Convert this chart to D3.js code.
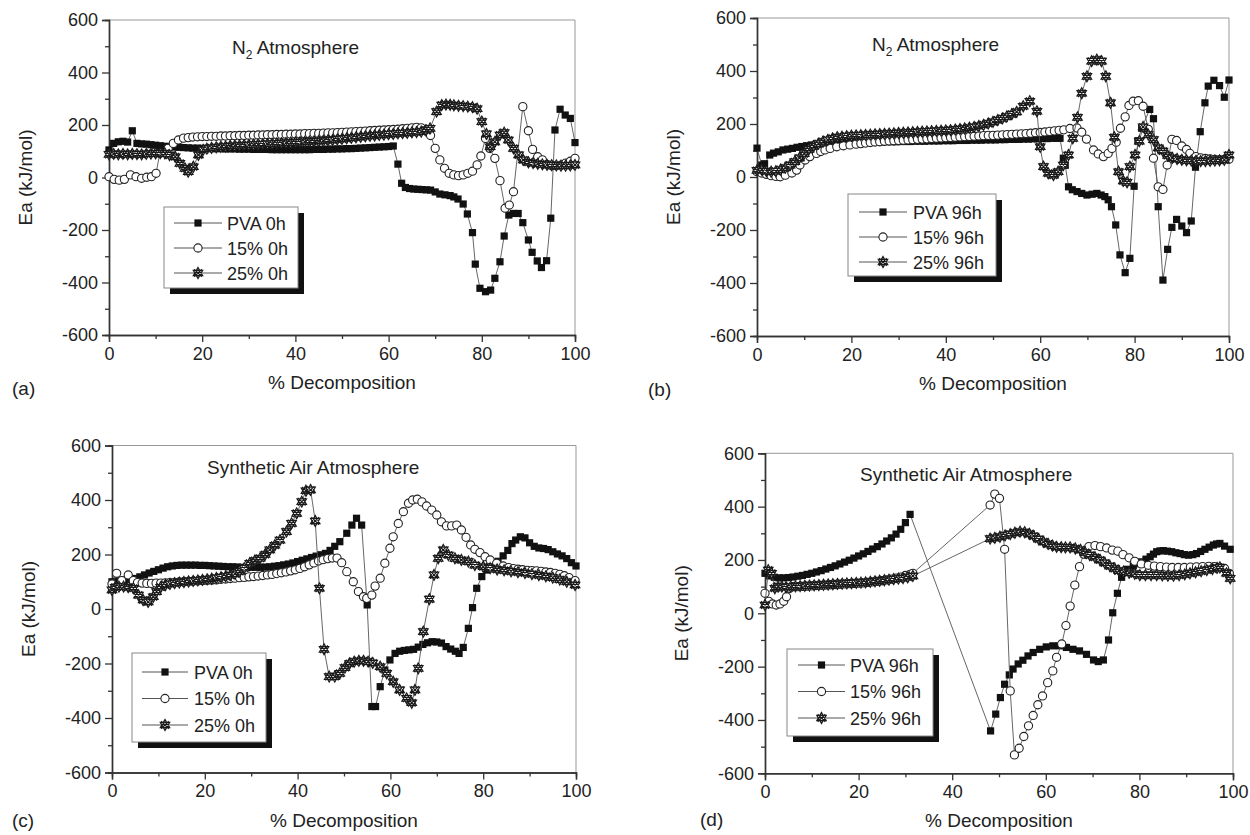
<!DOCTYPE html>
<html><head><meta charset="utf-8">
<script src="https://cdn.jsdelivr.net/npm/d3@7/dist/d3.min.js"></script>
<style>body{margin:0;background:#fff}svg text{font-family:"Liberation Sans",Arial,sans-serif;fill:#222}</style>
</head><body><svg id="c" width="1250" height="835"></svg>
<script>
// ---------- tick labels / legend text ----------
const xTicks = [0,20,40,60,80,100];
const yTicks = [-600,-400,-200,0,200,400,600];
const legend0h = ["PVA 0h","15% 0h","25% 0h"];
const legend96h = ["PVA 96h","15% 96h","25% 96h"];

// ---------- (a) N2, 0h ----------
const aPVA = [[0,105],[1,130],[2,136],[3,138],[4,135],[5,178],[6,130],[7,128],[8,127],[9,125],[10,123],[11,121],[12,119],[13,117],[14,116],[15,115],[16,114],[17,113],[18,112],[19,112],[20,111],[21,111],[22,110],[23,110],[24,110],[25,109],[26,109],[27,109],[28,108],[29,108],[30,108],[31,107],[32,107],[33,107],[34,107],[35,106],[36,106],[37,106],[38,106],[39,106],[40,106],[41,106],[42,106],[43,106],[44,107],[45,107],[46,107],[47,108],[48,108],[49,109],[50,109],[51,110],[52,110],[53,111],[54,112],[55,113],[56,114],[57,115],[58,116],[59,117],[60,118],[61,120],[62,51],[62.8,-22],[63.6,-38],[64.5,-42],[65.4,-44],[66.3,-45],[67.2,-46],[68.1,-47],[69,-48],[70,-55],[71,-63],[72.1,-66],[73.2,-69],[74,-74],[74.9,-82],[76,-101],[76.9,-139],[78,-210],[78.6,-330],[79.6,-422],[80.8,-435],[81.9,-429],[82.8,-384],[83.9,-321],[84.8,-223],[85.8,-143],[86.8,-137],[87.8,-137],[88.8,-172],[90,-238],[90.8,-285],[91.9,-318],[92.8,-343],[93.9,-317],[94.8,-155],[95.7,181],[96.8,260],[97.9,238],[99,225],[100,133]];
const a15 = [[0,3],[1.1,-7],[2.2,-10],[3.3,-7],[4.6,10],[5.8,3],[7,-3],[8.1,1],[9.1,3],[10.1,16],[10.9,92],[12.7,111],[13.8,130],[14.9,143],[16,150],[17,152],[18,154],[19,155],[20,156],[21,156],[22,157],[23,157],[24,158],[25,158],[26,159],[27,159],[28,160],[29,160],[30,161],[31,161],[32,162],[33,162],[34,163],[35,163],[36,164],[37,164],[38,165],[39,165],[40,166],[41,166],[42,167],[43,167],[44,168],[45,168],[46,169],[47,170],[48,170],[49,171],[50,172],[51,173],[52,174],[53,175],[54,176],[55,177],[56,178],[57,179],[58,180],[59,181],[60,182],[61,183],[62,184],[63,186],[64,187],[65,189],[66,191],[67,189],[68,180],[69,160],[70,111],[71,67],[72,35],[73,16],[74,10],[75,7],[76,10],[77,16],[78,24],[79,48],[79.8,82],[80.8,149],[81.7,111],[82.8,73],[83.9,-12],[85,-117],[85.9,-105],[86.8,-54],[88.8,270],[90,178],[90.9,107],[92,79],[93,67],[94,50],[95,45],[96,45],[97,47],[98,55],[99,62],[100,73]];
const a25 = [[0,88],[1,90],[2,88],[3,90],[4,88],[5,90],[6,89],[7,88],[8,90],[9,91],[10,92],[11,93],[12,92],[13,85],[14.2,79],[15.2,54],[16.3,35],[17,22],[18.1,41],[19.2,86],[20.2,105],[21,110],[22,113],[23,115],[24,117],[25,118],[26,120],[27,121],[28,122],[29,123],[30,124],[31,125],[32,126],[33,127],[34,128],[35,129],[36,130],[37,131],[38,132],[39,133],[40,134],[41,135],[42,136],[43,137],[44,138],[45,139],[46,140],[47,142],[48,143],[49,145],[50,147],[51,149],[52,151],[53,153],[54,155],[55,157],[56,159],[57,160],[58,162],[59,163],[60,165],[61,166],[62,168],[63,169],[64,170],[65,172],[66,173],[67,175],[68,180],[68.9,187],[70.3,251],[71.4,276],[72.3,278],[73.2,277],[74,275],[75,273],[76,272],[77,270],[78,268],[79,262],[80,213],[81,166],[81.8,117],[82.8,136],[83.9,162],[84.8,171],[85.7,143],[86.8,111],[87.9,86],[88.9,67],[90,58],[91,55],[92,52],[93,50],[94,48],[95,47],[96,46],[97,45],[98,45],[99,46],[100,48]];

// ---------- (b) N2, 96h ----------
const bPVA = [[0,109],[1,45],[1.6,50],[2.7,83],[3.5,90],[4.5,95],[5.5,102],[6.5,105],[7.5,108],[8.5,112],[9.5,115],[10.5,118],[11.5,121],[12.5,123],[13.5,125],[14.5,126],[15.5,127],[16.5,128],[17.5,129],[18.5,129],[19.5,130],[20.5,130],[21.5,131],[22.5,131],[23.5,131],[24.5,132],[25.5,132],[26.5,132],[27.5,133],[28.5,133],[29.5,133],[30.5,134],[31.5,134],[32.5,134],[33.5,135],[34.5,135],[35.5,135],[36.5,136],[37.5,136],[38.5,136],[39.5,137],[40.5,137],[41.5,137],[42.5,138],[43.5,138],[44.5,138],[45.5,139],[46.5,139],[47.5,139],[48.5,140],[49.5,140],[50.5,140],[51.5,141],[52.5,141],[53.5,142],[54.5,142],[55.5,142],[56.5,143],[57.5,143],[58.5,144],[59.5,144],[60.5,145],[61.5,145],[62.5,146],[63.4,146],[64.2,146],[64.9,71],[65.3,45],[66,-37],[66.8,-48],[67.8,-55],[68.8,-62],[69.9,-68],[71,-65],[72,-62],[72.9,-68],[73.7,-74],[74.4,-86],[75.1,-112],[76,-181],[76.9,-294],[78,-361],[79,-307],[79.9,-35],[80.7,137],[81.5,184],[83.2,255],[84,220],[85,-112],[86,-389],[87,-273],[87.9,-190],[88.9,-160],[90,-185],[91,-210],[92,-166],[92.9,37],[93.9,171],[94.9,280],[95.6,343],[96.8,365],[98,345],[99,301],[100,366]];
const b15 = [[0,20],[1,15],[2,10],[3,5],[4,2],[4.9,1],[6,7],[7.4,15],[8.4,26],[9.1,45],[10.2,64],[11.2,77],[12.6,89],[13.5,96],[14.4,102],[15.5,108],[16.9,114],[18.3,118],[19.7,121],[21,124],[22,126],[23,128],[24,130],[25,132],[26,133],[27,135],[28,136],[29,137],[30,138],[31,139],[32,140],[33,141],[34,142],[35,143],[36,144],[37,145],[38,146],[39,147],[40,148],[41,149],[42,150],[43,151],[44,152],[45,153],[46,154],[47,155],[48,156],[49,157],[50,157],[51,158],[52,159],[53,160],[54,161],[55,162],[56,163],[57,164],[58,165],[59,167],[60,168],[61,170],[62,172],[63,174],[64,176],[65,178],[66.3,183],[67.8,185],[68.8,169],[69.8,143],[71.3,102],[72.3,87],[73.4,77],[74.4,89],[75.2,108],[76.1,131],[77,184],[78,227],[78.8,270],[79.7,286],[80.8,288],[81.8,267],[82.9,180],[84,71],[85,-37],[86,-47],[86.9,45],[87.9,142],[88.9,138],[90,117],[91,104],[91.7,89],[93,77],[94,72],[95,70],[96,68],[97,66],[98,65],[99,66],[100,67]];
const b25 = [[0,25],[1,28],[2,22],[3,20],[4,22],[5,28],[6,35],[7,45],[8,58],[9,72],[10,88],[11,104],[12,116],[13,126],[14,134],[15,140],[16,146],[17,150],[18,152],[19,154],[20,156],[21,157],[22,158],[23,159],[24,160],[25,161],[26,162],[27,163],[28,164],[29,165],[30,166],[31,167],[32,168],[33,169],[34,170],[35,171],[36,172],[37,173],[38,174],[39,175],[40,176],[41,177],[42,179],[43,181],[44,183],[45,186],[46,189],[47,193],[48,197],[49,202],[50,208],[51,215],[52,221],[52.9,228],[54,237],[55,246],[56.4,267],[57.8,286],[59.3,248],[60,114],[60.7,39],[61.7,14],[62.8,7],[63.8,20],[64.9,45],[66,83],[66.9,146],[67.9,225],[68.8,316],[69.9,380],[70.9,437],[72,443],[73,437],[73.9,380],[74.9,280],[75.7,150],[76.6,20],[77.6,-15],[78.4,-20],[79,39],[80.1,83],[81,135],[81.8,189],[82.9,160],[84,141],[85,110],[86,98],[87,81],[88,72],[89,68],[90,65],[91,63],[92,62],[93,61],[94,60],[95,60],[96,61],[97,62],[98,63],[99,65],[100,83]];

// ---------- (c) Synthetic air, 0h ----------
const cPVA = [[0,100],[1,102],[2,104],[3,106],[4,108],[5,112],[6,118],[7,125],[8,132],[9,138],[10,144],[11,150],[12,155],[13,158],[14,160],[15,161],[16,161],[17,161],[18,161],[19,160],[20,160],[21,159],[22,158],[23,157],[24,156],[25,155],[26,155],[27,154],[28,153],[29,153],[30,153],[31,153],[32,153],[33,154],[34,155],[35,157],[36,159],[37,162],[38,165],[39,169],[40,174],[41,179],[42,184],[43,189],[44,194],[45,199],[46,204],[47,215],[48,230],[49.1,247],[50.6,278],[51.7,308],[52.7,333],[53.8,308],[55,15],[56,-358],[56.8,-358],[57.8,-285],[58.8,-224],[59.9,-187],[61,-163],[62,-155],[63,-152],[64,-150],[65,-148],[66,-140],[67,-130],[68,-124],[69,-120],[70,-121],[71,-125],[72,-138],[73,-147],[74,-155],[74.8,-163],[75.7,-141],[76.8,-71],[77.7,5],[78.6,76],[79.7,119],[80.8,143],[82,161],[83.2,175],[84.3,195],[85.3,215],[86.2,240],[87,253],[88,265],[89,261],[90,243],[91,230],[92,224],[93,222],[94,218],[95,210],[96,202],[97,195],[98,185],[99,170],[100,158]];
const c15 = [[0,92],[1,131],[2.1,104],[3.5,125],[4.6,104],[5.5,97],[6.5,95],[7.5,94],[8.5,94],[9.5,95],[10.5,95],[11.5,96],[12.5,97],[13.5,98],[14.5,99],[15.5,100],[16.5,101],[17.5,102],[18.5,103],[19.5,104],[20.5,105],[21.5,106],[22.5,107],[23.5,109],[24.5,110],[25.5,112],[26.5,113],[27.5,115],[28.5,116],[29.5,118],[30.5,119],[31.5,121],[32.5,123],[33.5,125],[34.5,127],[35.5,130],[36.5,133],[37.5,136],[38.5,140],[39.5,144],[40.5,149],[41.5,155],[42.5,162],[43.5,169],[44.5,176],[45.5,181],[46.5,185],[47.5,187],[48.5,187],[49.5,170],[50.6,137],[52,100],[53.1,64],[54.2,45],[54.9,39],[56,51],[56.7,84],[57.8,113],[58.8,168],[59.9,223],[60.6,265],[61.7,314],[62.8,357],[63.9,388],[64.8,400],[65.8,403],[66.8,393],[67.8,378],[68.9,363],[70,345],[71,320],[72.1,305],[73.2,305],[74.3,308],[75.3,290],[76.3,263],[77.3,235],[78.2,219],[79.3,207],[80.4,192],[81.5,180],[82.9,168],[84.3,158],[85.5,152],[86.5,148],[87.5,146],[88.5,144],[89.5,142],[90.5,141],[91.5,140],[92.5,138],[93.5,136],[94.5,134],[95.5,131],[96.5,127],[97.5,122],[98.5,115],[99.8,104]];
const c25 = [[0,70],[0.7,80],[1.5,82],[2.5,82],[3.5,80],[4.6,76],[5.7,51],[6.7,33],[7.8,26],[8.9,45],[9.6,64],[10.5,80],[11.5,88],[12.5,92],[13.5,95],[14.5,97],[15.5,99],[16.5,101],[17.5,103],[18.5,105],[19.5,107],[20.5,109],[21.5,111],[22.5,114],[23.5,117],[24.5,120],[25.5,124],[26.5,129],[27.5,138],[28.5,150],[29.7,168],[30.8,178],[31.9,186],[33,200],[34,217],[35.1,234],[36.2,253],[37.6,284],[38.7,314],[39.8,351],[40.9,394],[41.8,434],[42.8,437],[43.8,323],[44.7,76],[45.7,-148],[46.8,-248],[48,-248],[49.1,-236],[50.2,-215],[51.2,-200],[52.2,-193],[53.2,-190],[54.2,-190],[55.2,-193],[56.2,-198],[57.8,-212],[59.2,-236],[60.6,-267],[62,-297],[63.5,-328],[64.6,-344],[65.3,-297],[66,-218],[67.1,-83],[68.4,36],[69.4,125],[70.3,186],[71.4,217],[72.5,198],[73.9,186],[75.3,180],[76.8,174],[78.2,161],[80,155],[81.5,150],[83,145],[84.5,142],[86,138],[87.5,135],[89,132],[90.5,128],[92,124],[93.5,120],[95,115],[96.5,108],[98,100],[99.8,88]];

// ---------- (d) Synthetic air, 96h ----------
const dPVA = [[0,150],[1,140],[2,135],[3,133],[4,133],[5,134],[6,136],[7,139],[8,142],[9,146],[10,150],[11,155],[12,160],[13,166],[14,172],[15,178],[16,185],[17,192],[18,199],[19,207],[20,215],[21,223],[22,232],[23,241],[24,250],[25,260],[26,271],[27,283],[28,297],[29,315],[30,340],[31,371],[48.2,-441],[49.3,-378],[50.3,-316],[51.2,-266],[52.2,-231],[53,-209],[54.1,-190],[55.1,-176],[56.2,-160],[57.3,-147],[58.7,-135],[60.1,-126],[61.5,-122],[62.9,-122],[64.4,-128],[65.8,-135],[67.2,-141],[68.7,-154],[70.2,-175],[71.2,-181],[72.3,-175],[73.4,-100],[74.3,2],[75.3,75],[76.2,135],[77.3,165],[78.7,178],[79.6,186],[80.5,193],[81.4,203],[82.3,212],[83,222],[83.7,231],[84.4,234],[85.1,235],[86,233],[86.9,231],[87.8,227],[88.7,224],[89.6,220],[90.5,218],[91.4,220],[92.2,224],[93.1,232],[94,240],[94.9,248],[95.8,256],[96.5,260],[97.2,262],[98.2,252],[99.4,240]];
const d15 = [[0,75],[0.8,45],[1.6,35],[2.4,31],[3.2,35],[4,45],[4.6,62],[5.3,94],[6,100],[7,100],[8,101],[9,102],[10,103],[11,104],[12,105],[13,106],[14,107],[15,108],[16,109],[17,110],[18,111],[19,112],[20,113],[21,114],[22,116],[23,118],[24,120],[25,122],[26,125],[27,128],[28,132],[29,136],[30,142],[31,146],[31.6,150],[48.1,406],[49.1,447],[50.1,431],[51.2,240],[52.4,-291],[53.3,-531],[54.3,-506],[55.3,-462],[56.3,-422],[57.3,-383],[58.3,-343],[59.3,-310],[60.4,-260],[61.5,-216],[62.3,-165],[63.4,-115],[64.3,-46],[65.2,27],[66.2,106],[67.2,175],[68.1,222],[69.2,250],[70.5,254],[71.7,250],[73,245],[74.2,237],[75.4,233],[76.5,220],[77.8,208],[79,195],[80.4,185],[81.9,180],[83.2,177],[84.5,175],[85.8,173],[87,172],[88.3,172],[89.6,172],[90.9,173],[92.2,174],[93.5,175],[94.8,176],[96,175],[97.2,172],[98.2,168],[99.2,150]];
const d25 = [[0,31],[0.7,162],[1.4,150],[2.1,94],[2.8,100],[3.6,100],[4.5,98],[5.5,100],[6.5,101],[7.5,102],[8.5,103],[9.5,104],[10.5,105],[11.5,106],[12.5,107],[13.5,108],[14.5,109],[15.5,110],[16.5,111],[17.5,112],[18.5,113],[19.5,114],[20.5,115],[21.5,116],[22.5,118],[23.5,120],[24.5,122],[25.5,124],[26.5,126],[27.5,128],[28.5,130],[29.5,132],[30.5,135],[31.6,140],[48.1,280],[49.1,283],[50.2,287],[51.3,292],[52.4,297],[53.4,302],[54.5,306],[55.5,304],[56.5,298],[57.4,290],[58.5,278],[59.5,268],[60.5,260],[61.4,254],[62.3,249],[63.3,248],[64.2,247],[65.2,247],[66.3,243],[67.4,238],[68.4,228],[69.4,218],[70.5,210],[71.6,200],[72.6,189],[73.7,177],[74.7,168],[75.6,160],[76.6,156],[77.8,152],[79,148],[80.1,143],[81.3,143],[82.5,143],[83.7,143],[84.9,142],[86.1,141],[87.3,141],[88.5,143],[89.7,146],[90.8,150],[92,154],[93.2,158],[94.4,162],[95.6,166],[96.6,170],[97.2,172],[98.6,150],[99.4,131]];

// ---------- layout ----------
const panels = [
  {id:"(a)", x0:109, x1:575, y0:20, y1:335, title:"N2", tx:232, ty:54, tagX:12, tagDy:60, series:[aPVA,a15,a25], leg:legend0h,
   lg:{x:164,y:207,w:134,h:81,r0:223,dr:25,l0:174,l1:222,tx:227}},
  {id:"(b)", x0:757, x1:1229, y0:18, y1:336, title:"N2", tx:872, ty:51, tagX:648, tagDy:60, series:[bPVA,b15,b25], leg:legend96h,
   lg:{x:848,y:194,w:148,h:82,r0:212,dr:25,l0:859,l1:907,tx:913}},
  {id:"(c)", x0:112, x1:576, y0:445.5, y1:772.5, title:"Synthetic Air Atmosphere", tx:207, ty:474, tagX:12, tagDy:54, series:[cPVA,c15,c25], leg:legend0h,
   lg:{x:132,y:653,w:134,h:89,r0:672,dr:26.5,l0:142,l1:188,tx:194}},
  {id:"(d)", x0:765, x1:1233, y0:453.3, y1:773.3, title:"Synthetic Air Atmosphere", tx:860, ty:481, tagX:700, tagDy:53, series:[dPVA,d15,d25], leg:legend96h,
   lg:{x:787,y:649,w:146,h:87,r0:665,dr:26.5,l0:798,l1:845,tx:850}}
];

const svg = d3.select("#c");
const starPath = (()=>{ // hexagram-like star with cross
  const r=5.4;
  let p="";
  for(const off of [-90,90]){
    const a=[0,120,240].map(d=>(d+off)*Math.PI/180);
    p+="M"+a.map(t=>[r*Math.cos(t),r*Math.sin(t)].map(v=>v.toFixed(2)).join(",")).join("L")+"Z";
  }
  p+="M-3.8,-3.8L3.8,3.8M-3.8,3.8L3.8,-3.8";
  return p;
})();

function marker(g, k, x, y){
  if(k===0) g.append("rect").attr("x",x-3.6).attr("y",y-3.6).attr("width",7.2).attr("height",7.2).attr("fill","#111");
  else if(k===1) g.append("circle").attr("cx",x).attr("cy",y).attr("r",4.1).attr("fill","#fff").attr("stroke","#222").attr("stroke-width",1.1);
  else g.append("path").attr("d",starPath).attr("transform",`translate(${x},${y})`).attr("fill","#fff").attr("stroke","#1a1a1a").attr("stroke-width",1.25);
}

panels.forEach(P=>{
  const g = svg.append("g");
  const x = d3.scaleLinear().domain([0,100]).range([P.x0,P.x1]);
  const y = d3.scaleLinear().domain([-600,600]).range([P.y1,P.y0]);
  // frame (top/right)
  g.append("path").attr("d",`M${P.x0},${P.y0}H${P.x1}V${P.y1}`).attr("fill","none").attr("stroke","#999").attr("stroke-width",1);
  // axes
  const ya = d3.axisLeft(y).tickValues(yTicks).tickSize(7).tickPadding(4).tickFormat(d=>String(d));
  const yam = d3.axisLeft(y).tickValues(d3.range(-500,600,200)).tickSize(4).tickFormat("");
  const xa = d3.axisBottom(x).tickValues(xTicks).tickSize(7).tickPadding(5).tickFormat(d=>String(d));
  const xam = d3.axisBottom(x).tickValues(d3.range(10,100,20)).tickSize(4).tickFormat("");
  [[ya,`translate(${P.x0},0)`],[yam,`translate(${P.x0},0)`],[xa,`translate(0,${P.y1})`],[xam,`translate(0,${P.y1})`]].forEach(([ax,tr])=>{
    const a = g.append("g").attr("transform",tr).call(ax);
    a.select(".domain").attr("stroke","#333").attr("stroke-width",1.4);
    a.selectAll(".tick line").attr("stroke","#333").attr("stroke-width",1.3);
    a.selectAll("text").style("font-size","18px").attr("fill","#222").style("font-family","Liberation Sans, Arial, sans-serif");
  });
  // axis titles
  g.append("text").attr("x",(P.x0+P.x1)/2).attr("y",P.y1+54).attr("text-anchor","middle").style("font-size","19px").text("% Decomposition");
  g.append("text").attr("transform",`translate(${P.x0-77},${(P.y0+P.y1)/2}) rotate(-90)`).attr("text-anchor","middle").style("font-size","19px").text("Ea (kJ/mol)");
  g.append("text").attr("x",P.tagX).attr("y",P.y1+P.tagDy).style("font-size","19px").text(P.id);
  // title
  const t = g.append("text").attr("x",P.tx).attr("y",P.ty).style("font-size","19px");
  if(P.title==="N2"){
    t.append("tspan").text("N");
    t.append("tspan").attr("dy",5).style("font-size","12px").text("2");
    t.append("tspan").attr("dy",-5).text(" Atmosphere");
  } else t.text(P.title);
  // data
  const line = d3.line().x(d=>x(d[0])).y(d=>y(d[1]));
  P.series.forEach((s,k)=>{
    g.append("path").datum(s).attr("d",line).attr("fill","none").attr("stroke","#555").attr("stroke-width",0.9);
    const mg = g.append("g");
    s.forEach(d=>marker(mg,k,x(d[0]),y(d[1])));
  });
  // legend
  const L = P.lg;
  g.append("rect").attr("x",L.x+6).attr("y",L.y+6).attr("width",L.w).attr("height",L.h).attr("fill","#111");
  g.append("rect").attr("x",L.x).attr("y",L.y).attr("width",L.w).attr("height",L.h).attr("fill","#fff").attr("stroke","#888").attr("stroke-width",1);
  P.leg.forEach((lab,k)=>{
    const yy = L.r0 + k*L.dr;
    g.append("line").attr("x1",L.l0).attr("x2",L.l1).attr("y1",yy).attr("y2",yy).attr("stroke","#555").attr("stroke-width",1);
    marker(g,k,(L.l0+L.l1)/2,yy);
    g.append("text").attr("x",L.tx).attr("y",yy+6.5).style("font-size","18px").text(lab);
  });
});
</script></body></html>
